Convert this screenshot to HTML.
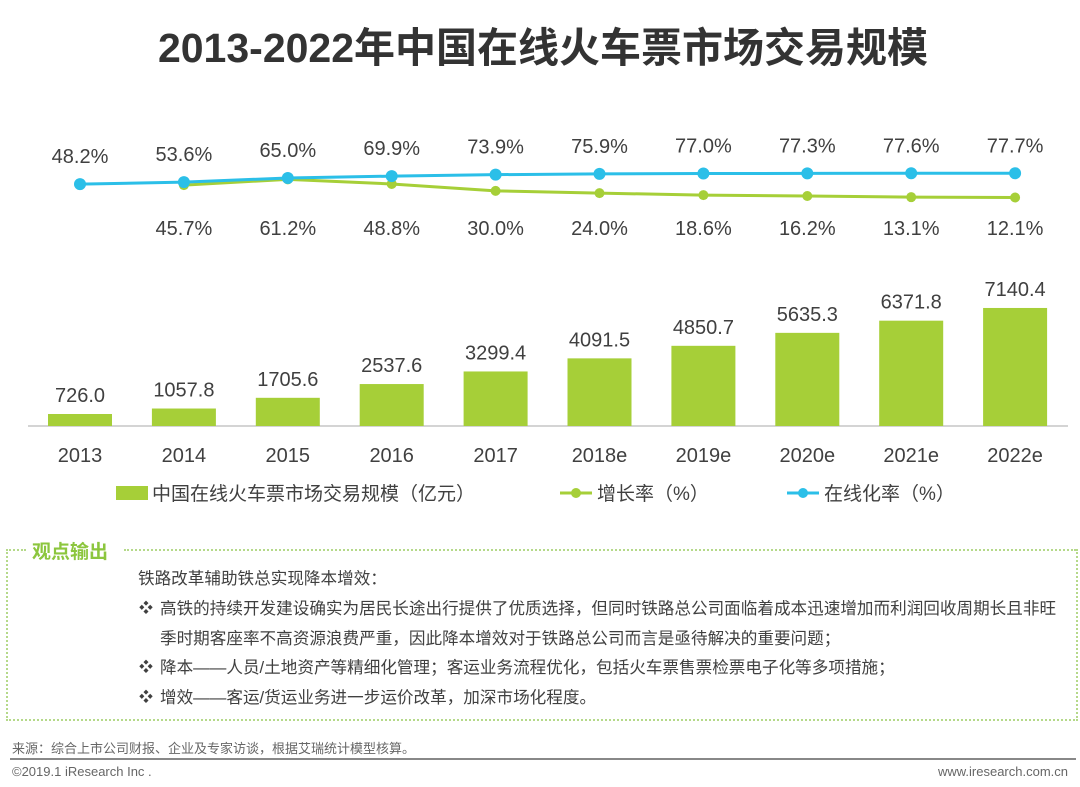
<!DOCTYPE html>
<html><head><meta charset="utf-8"><style>
body{margin:0;background:#fff;}
#wrap{position:relative;width:1080px;height:787px;overflow:hidden;font-family:"Liberation Sans","Noto Sans CJK SC",sans-serif;color:#404040}
.t{position:absolute;white-space:nowrap}
.b{position:relative}
.b span{position:absolute;left:-21px;font-size:14px}
</style></head><body>
<div id="wrap">
<div class="t" style="left:0;width:1086px;text-align:center;top:14px;font-size:41px;font-weight:bold;color:#333">2013-2022年中国在线火车票市场交易规模</div>
<svg id="chart" width="1080" height="520" style="position:absolute;left:0;top:0"></svg>
<div class="t" style="left:32px;top:537px;font-size:19px;font-weight:bold;color:#8cc63e">观点输出</div>
<div style="position:absolute;left:6px;top:549px;width:1068px;height:170px;border:2px dotted #b5d98a;border-top:none"></div>
<div style="position:absolute;left:6px;top:549px;width:20px;border-top:2px dotted #b5d98a"></div>
<div style="position:absolute;left:124px;top:549px;width:952px;border-top:2px dotted #b5d98a"></div>
<div style="position:absolute;left:138px;top:564px;font-size:16.6px;line-height:29.8px;color:#404040;white-space:nowrap">
<div>铁路改革辅助铁总实现降本增效：</div>
<div class="b" style="margin-left:22px"><span>❖</span>高铁的持续开发建设确实为居民长途出行提供了优质选择，但同时铁路总公司面临着成本迅速增加而利润回收周期长且非旺</div>
<div style="margin-left:22px">季时期客座率不高资源浪费严重，因此降本增效对于铁路总公司而言是亟待解决的重要问题；</div>
<div class="b" style="margin-left:22px"><span>❖</span>降本——人员/土地资产等精细化管理；客运业务流程优化，包括火车票售票检票电子化等多项措施；</div>
<div class="b" style="margin-left:22px"><span>❖</span>增效——客运/货运业务进一步运价改革，加深市场化程度。</div>
</div>
<div class="t" style="left:12px;top:738px;font-size:13px;color:#666">来源：综合上市公司财报、企业及专家访谈，根据艾瑞统计模型核算。</div>
<div style="position:absolute;left:10px;top:758px;width:1066px;border-top:2px solid #888"></div>
<div class="t" style="left:12px;top:764px;font-size:13px;color:#666">©2019.1 iResearch Inc .</div>
<div class="t" style="right:12px;top:764px;font-size:13px;color:#666">www.iresearch.com.cn</div>
</div>
<script>
const years=["2013","2014","2015","2016","2017","2018e","2019e","2020e","2021e","2022e"];
const scale=[726.0,1057.8,1705.6,2537.6,3299.4,4091.5,4850.7,5635.3,6371.8,7140.4];
const growth=[null,45.7,61.2,48.8,30.0,24.0,18.6,16.2,13.1,12.1];
const online=[48.2,53.6,65.0,69.9,73.9,75.9,77.0,77.3,77.6,77.7];
const NS="http://www.w3.org/2000/svg";
const svg=document.getElementById('chart');
function mk(tag,attrs,txt){const e=document.createElementNS(NS,tag);for(const k in attrs)e.setAttribute(k,attrs[k]);if(txt!=null)e.textContent=txt;svg.appendChild(e);return e;}
const xc=i=>80+i*103.9;
const yb=v=>426-v*0.01653;
const yl=v=>202-v*0.37;
let e;
e=mk('line',{x1:28,x2:1068,y1:426,y2:426,stroke:'#aaa','stroke-width':1});


years.forEach((y,i)=>{
 e=mk('rect',{x:xc(i)-32,y:yb(scale[i]),width:64,height:426-yb(scale[i]),fill:'#a6cf38'});
 
 
 e=mk('text',{x:xc(i),y:yb(scale[i])-12,'text-anchor':'middle','font-size':20,fill:'#404040'},scale[i].toFixed(1));
 
 
 e=mk('text',{x:xc(i),y:462,'text-anchor':'middle','font-size':20,fill:'#404040'},y);
 
 
});
let gp=[];growth.forEach((v,i)=>{if(v!=null)gp.push(xc(i)+','+yl(v));});
e=mk('polyline',{points:gp.join(' '),fill:'none',stroke:'#a6cf38','stroke-width':3});


growth.forEach((v,i)=>{if(v==null)return;
 e=mk('circle',{cx:xc(i),cy:yl(v),r:5,fill:'#a6cf38'});
 
 
 e=mk('text',{x:xc(i),y:235,'text-anchor':'middle','font-size':20,fill:'#404040'},v.toFixed(1)+'%');
 
 
});
e=mk('polyline',{points:online.map((v,i)=>xc(i)+','+yl(v)).join(' '),fill:'none',stroke:'#2bbfe8','stroke-width':3});


online.forEach((v,i)=>{
 e=mk('circle',{cx:xc(i),cy:yl(v),r:6,fill:'#2bbfe8'});
 
 
 e=mk('text',{x:xc(i),y:yl(v)-21,'text-anchor':'middle','font-size':20,fill:'#404040'},v.toFixed(1)+'%');
 
 
});
e=mk('rect',{x:116,y:486,width:32,height:14,fill:'#a6cf38'});


e=mk('text',{x:152,y:500,'font-size':19,fill:'#404040'},'中国在线火车票市场交易规模（亿元）');


e=mk('line',{x1:560,x2:592,y1:493,y2:493,stroke:'#a6cf38','stroke-width':3});


e=mk('circle',{cx:576,cy:493,r:5,fill:'#a6cf38'});


e=mk('text',{x:597,y:500,'font-size':19,fill:'#404040'},'增长率（%）');


e=mk('line',{x1:787,x2:819,y1:493,y2:493,stroke:'#2bbfe8','stroke-width':3});


e=mk('circle',{cx:803,cy:493,r:5,fill:'#2bbfe8'});


e=mk('text',{x:824,y:500,'font-size':19,fill:'#404040'},'在线化率（%）');


</script>
</body></html>
